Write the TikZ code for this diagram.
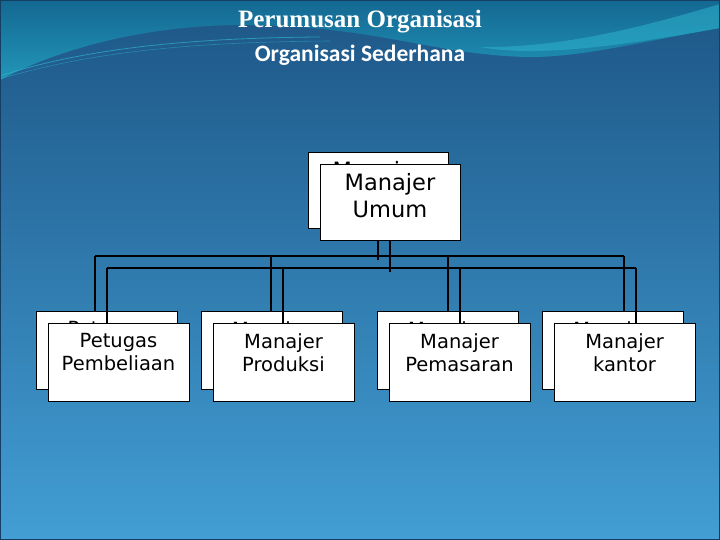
\documentclass[tikz,border=0pt]{standalone}
\usepackage{fontspec}
\setmainfont{DejaVu Sans}
\newfontfamily\titlefont{Liberation Serif}
\newfontfamily\subtitlefont{Carlito}
\usepackage{xcolor}
\usetikzlibrary{positioning}
\definecolor{bgdark}{RGB}{29,86,134}
\definecolor{bglight}{RGB}{66,158,212}
\definecolor{bandtop}{RGB}{20,104,146}
\definecolor{bandlow}{RGB}{34,150,184}
\definecolor{wavecyan}{RGB}{45,178,204}
\definecolor{framedark}{RGB}{20,62,98}
\tikzset{
  box/.style={rectangle,draw=black,fill=white,line width=0.9pt,
              minimum width=141pt,minimum height=78pt,inner sep=0pt},
  topbox/.style={box,minimum width=140pt,minimum height=76pt},
  lbl/.style={align=center,inner sep=0pt,
              font=\fontsize{19.5}{23.4}\selectfont},
  toplbl/.style={lbl,font=\fontsize{22.5}{27}\selectfont},
  conn/.style={draw=black,line width=1.1pt},
}

\begin{document}
\begin{tikzpicture}[x=1pt,y=-1pt]
  \useasboundingbox (0,0) rectangle (720,540);
  % background
  \shade[top color=bgdark,bottom color=bglight] (0,0) rectangle (720,540);
  \shade[top color=bandtop,bottom color=bandlow]
    (0,0) -- (720,0) -- (720,28) .. controls (640,42) and (580,58) .. (525,57)
    .. controls (430,54) and (380,27) .. (250,25)
    .. controls (150,24) and (60,48) .. (0,80) -- cycle;
  \fill[wavecyan,opacity=.55]
    (720,4) .. controls (640,28) and (560,48) .. (480,47)
    .. controls (530,56) and (600,50) .. (720,28) -- cycle;
  \draw[wavecyan,opacity=.7,line width=.8pt]
    (0,76) .. controls (80,50) and (180,38) .. (320,37);
  \draw[wavecyan,opacity=.5,line width=.6pt]
    (0,79) .. controls (90,52) and (190,42) .. (330,41);
  \draw[framedark,line width=2.5pt] (0,0) rectangle (720,540);

  % titles
  \node[text=white,font=\titlefont\bfseries\fontsize{25}{30}\selectfont]
    (title) at (360,22) {Perumusan Organisasi};
  \node[text=white,font=\subtitlefont\bfseries\fontsize{23.5}{28}\selectfont]
    (subtitle) at (360,55) {Organisasi Sederhana};

  % chart, drawn twice (shadow copy behind)
  \foreach \l/\o in {b/0,f/12}{
    \node[topbox] (mu\l) at (378+\o,190+\o) {};
    \node[toplbl,below=9.5pt of mu\l.north] (mut\l) {Manajer\\Umum};
    \node[box] (pb\l) at (106.5+\o,350+\o) {};
    \node[lbl,below=10.5pt of pb\l.north] (pbt\l) {Petugas\\Pembeliaan};
    \node[box] (mp\l) at (271.5+\o,350+\o) {};
    \node[lbl,below=10.5pt of mp\l.north] (mpt\l) {Manajer\\Produksi};
    \node[box] (mps\l) at (447.5+\o,350+\o) {};
    \node[lbl,below=10.5pt of mps\l.north] (mpst\l) {Manajer\\Pemasaran};
    \node[box] (mk\l) at (612.5+\o,350+\o) {};
    \node[lbl,below=10.5pt of mk\l.north] (mkt\l) {Manajer\\kantor};
    \draw[conn] (mu\l.south) -- ++(0,32);
    \foreach \d/\n in {95/pb,271/mp,448/mps,624/mk}{
      \coordinate (\n x\l) at (\d+\o,256+\o);
      \draw[conn] (\n x\l) -- (\n x\l |- \n\l.north);
    }
    \draw[conn] (pbx\l) -- (mkx\l);
  }
\end{tikzpicture}
\end{document}
